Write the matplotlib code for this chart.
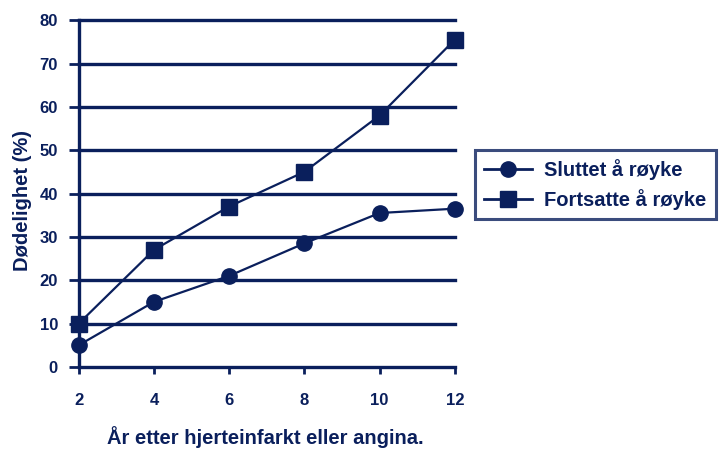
import matplotlib
matplotlib.use("Agg")
import matplotlib.pyplot as plt
from matplotlib.lines import Line2D

plt.rcParams['font.family'] = ['Liberation Sans', 'DejaVu Sans']

NAVY = "#0a1f5c"

years = [2, 4, 6, 8, 10, 12]
sluttet = [5, 15, 21, 28.5, 35.5, 36.5]
fortsatte = [10, 27, 37, 45, 58, 75.5]
y_ticks = [0, 10, 20, 30, 40, 50, 60, 70, 80]
series_names = ["Sluttet å røyke", "Fortsatte å røyke"]

fig = plt.figure(figsize=(7.23, 4.49), dpi=100)
ax = fig.add_axes([0.109, 0.183, 0.52, 0.772])

ax.set_xlim(2, 12)
ax.set_ylim(0, 80)

# horizontal grid drawn as heavy navy rules
for v in y_ticks:
    ax.axhline(v, color=NAVY, lw=2.4, zorder=1, clip_on=False)

ax.plot(years, sluttet, color=NAVY, lw=1.6, marker="o", ms=11,
        markerfacecolor=NAVY, markeredgecolor=NAVY, zorder=3, clip_on=False)
ax.plot(years, fortsatte, color=NAVY, lw=1.6, marker="s", ms=12,
        markerfacecolor=NAVY, markeredgecolor=NAVY, zorder=3, clip_on=False)

for s in ["top", "right", "bottom"]:
    ax.spines[s].set_visible(False)
ax.spines["left"].set_color(NAVY)
ax.spines["left"].set_linewidth(2.4)

ax.set_xticks(years)
ax.set_yticks(y_ticks)
ax.tick_params(axis="x", colors=NAVY, length=5, width=2, pad=14, labelsize=12)
ax.tick_params(axis="y", colors=NAVY, length=7, width=2, pad=8, labelsize=12)
for lab in ax.get_xticklabels() + ax.get_yticklabels():
    lab.set_fontweight("bold")
    lab.set_color(NAVY)

ax.set_xlabel("År etter hjerteinfarkt eller angina.", fontsize=14.5, fontweight="bold",
              color=NAVY)
ax.xaxis.set_label_coords(0.495, -0.17)
ax.set_ylabel("Dødelighet (%)", fontsize=14.5, fontweight="bold", color=NAVY)
ax.yaxis.set_label_coords(-0.125, 0.48)

handles = [
    Line2D([], [], color=NAVY, lw=2, marker="o", ms=11, markerfacecolor=NAVY),
    Line2D([], [], color=NAVY, lw=2, marker="s", ms=12, markerfacecolor=NAVY),
]
leg = fig.legend(handles, series_names, loc="upper left",
                 bbox_to_anchor=(0.657, 0.666), borderaxespad=0, frameon=True,
                 fancybox=False, handlelength=2.4, handletextpad=0.6, borderpad=0.45,
                 labelspacing=0.45, prop={"weight": "bold", "size": 14.5})
frame = leg.get_frame()
frame.set_edgecolor(NAVY)
frame.set_linewidth(2.2)
for t in leg.get_texts():
    t.set_color(NAVY)

fig.savefig("out.png", dpi=100)
